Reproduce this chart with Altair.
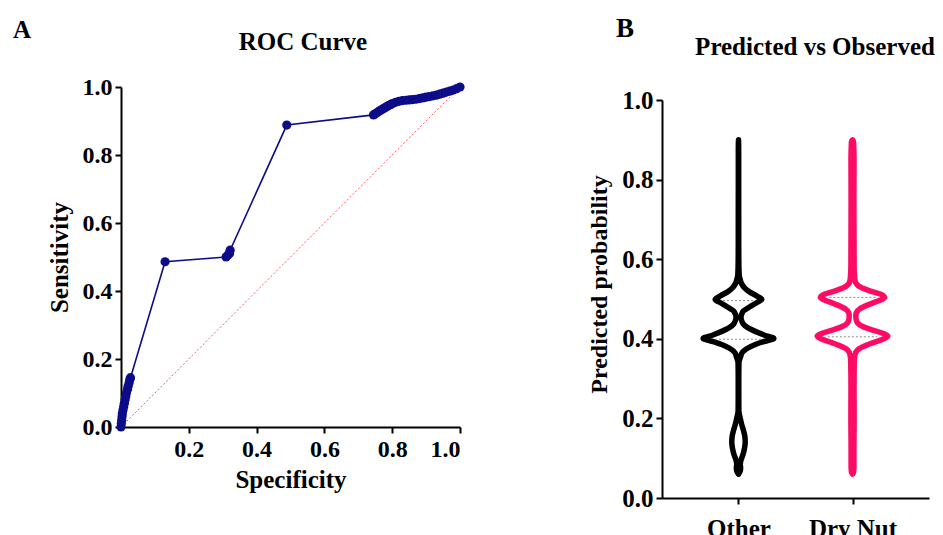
import altair as alt
import pandas as pd

FONT = "Liberation Serif"
NAVY = "#0c0c8a"

# ---------------- Panel A: ROC curve ----------------
roc_specificity = [0.0, 0.001, 0.002, 0.003, 0.004, 0.006, 0.008, 0.010, 0.012, 0.014,
                   0.016, 0.019, 0.021, 0.024, 0.026, 0.028,
                   0.130,
                   0.310, 0.315, 0.320, 0.322,
                   0.489,
                   0.745, 0.750, 0.755, 0.760, 0.765, 0.770, 0.775, 0.780, 0.785, 0.790,
                   0.795, 0.800, 0.810, 0.820, 0.830, 0.840, 0.850, 0.860, 0.870, 0.880,
                   0.890, 0.900, 0.910, 0.920, 0.930, 0.940, 0.950, 0.960, 0.970, 0.980,
                   0.990, 1.000]
roc_sensitivity = [0.0, 0.01, 0.02, 0.03, 0.04, 0.05, 0.06, 0.07, 0.08, 0.09,
                   0.10, 0.11, 0.12, 0.13, 0.14, 0.145,
                   0.486,
                   0.500, 0.505, 0.510, 0.520,
                   0.888,
                   0.918, 0.921, 0.924, 0.928, 0.931, 0.934, 0.937, 0.940, 0.943, 0.946,
                   0.948, 0.951, 0.955, 0.958, 0.960, 0.961, 0.962, 0.963, 0.964, 0.966,
                   0.968, 0.970, 0.972, 0.974, 0.976, 0.979, 0.982, 0.985, 0.988, 0.991,
                   0.995, 1.000]
chance_x = [0.0, 1.0]
chance_y = [0.0, 1.0]
axis_ticks = [0.0, 0.2, 0.4, 0.6, 0.8, 1.0]
x_ticks_roc = [0.2, 0.4, 0.6, 0.8, 1.0]
panel_labels = ["A", "B"]
panel_titles = ["ROC Curve", "Predicted vs Observed"]

# ---------------- Panel B: violins ----------------
categories = ["Other", "Dry Nut"]
cat_colors = ["#000000", "#ff0a64"]

other_y = [0.060, 0.066, 0.075, 0.085, 0.095, 0.110, 0.125, 0.140, 0.155, 0.170,
           0.185, 0.200, 0.220, 0.260, 0.300, 0.340, 0.355, 0.365, 0.375, 0.385,
           0.393, 0.401, 0.409, 0.418, 0.428, 0.438, 0.448, 0.455, 0.462, 0.470,
           0.480, 0.490, 0.499, 0.508, 0.518, 0.528, 0.538, 0.548, 0.560, 0.600,
           0.650, 0.700, 0.800, 0.880, 0.900]
other_density = [0.0, 0.04, 0.06, 0.05, 0.07, 0.13, 0.17, 0.19, 0.18, 0.14,
                 0.09, 0.05, 0.01, 0.008, 0.008, 0.012, 0.06, 0.10, 0.23, 0.46,
                 0.71, 1.0, 0.74, 0.49, 0.26, 0.13, 0.08, 0.07, 0.09, 0.14,
                 0.31, 0.50, 0.66, 0.51, 0.31, 0.17, 0.09, 0.05, 0.02, 0.008,
                 0.006, 0.006, 0.005, 0.005, 0.0]

drynut_y = [0.060, 0.065, 0.080, 0.120, 0.200, 0.280, 0.340, 0.360, 0.372, 0.382,
            0.392, 0.400, 0.407, 0.414, 0.422, 0.430, 0.440, 0.450, 0.458, 0.466,
            0.475, 0.484, 0.494, 0.504, 0.512, 0.520, 0.528, 0.538, 0.550, 0.580,
            0.650, 0.750, 0.850, 0.895, 0.900]
drynut_density = [0.0, 0.03, 0.04, 0.04, 0.046, 0.043, 0.05, 0.07, 0.14, 0.34,
                  0.63, 0.89, 1.0, 0.86, 0.57, 0.31, 0.14, 0.10, 0.094, 0.11,
                  0.20, 0.40, 0.69, 0.91, 0.80, 0.51, 0.26, 0.11, 0.063, 0.046,
                  0.043, 0.04, 0.043, 0.03, 0.0]

other_quartiles = [0.399, 0.496]
drynut_quartiles = [0.405, 0.504]

# ---------------- tables ----------------
roc_df = pd.DataFrame({"Specificity": roc_specificity,
                       "Sensitivity": roc_sensitivity,
                       "idx": list(range(len(roc_specificity)))})
diag_df = pd.DataFrame({"Specificity": chance_x, "Sensitivity": chance_y})

HALF = 0.31  # half-width of the widest violin, in category units

rows = []
for ci, (cat, ys, ds) in enumerate([(categories[0], other_y, other_density),
                                     (categories[1], drynut_y, drynut_density)]):
    for yv, dv in zip(ys, ds):
        rows.append({"cat": cat, "y": yv, "left": ci - dv * HALF, "right": ci + dv * HALF})
violin_df = pd.DataFrame(rows)


def dens_at(ys, ds, q):
    for i in range(len(ys) - 1):
        if ys[i] <= q <= ys[i + 1]:
            t = (q - ys[i]) / (ys[i + 1] - ys[i])
            return ds[i] + t * (ds[i + 1] - ds[i])
    return 0.0


qrows = []
for ci, (ys, ds, qs) in enumerate([(other_y, other_density, other_quartiles),
                                    (drynut_y, drynut_density, drynut_quartiles)]):
    for q in qs:
        w = dens_at(ys, ds, q) * HALF * 0.72
        qrows.append({"y": q, "left": ci - w, "right": ci + w})
quart_df = pd.DataFrame(qrows)

axis_common = dict(domainColor="black", domainWidth=2, tickColor="black", tickWidth=2,
                   tickSize=6, labelFont=FONT, labelFontWeight="bold", labelColor="black",
                   titleFont=FONT, titleFontWeight="bold", titleColor="black", grid=False)


def text_mark(txt, size, align, dx, dy):
    return alt.Chart(pd.DataFrame({"t": [txt]})).mark_text(
        align=align, baseline="alphabetic", font=FONT, fontWeight="bold", fontSize=size,
        color="black").encode(x=alt.value(dx), y=alt.value(dy), text="t:N")


# ---------------- Panel A chart ----------------
x_roc = alt.X("Specificity:Q", scale=alt.Scale(domain=[0, 1], nice=False),
              axis=alt.Axis(values=x_ticks_roc, format=".1f", labelFontSize=24,
                            titleFontSize=25, titlePadding=6, labelPadding=4, **axis_common))
y_roc = alt.Y("Sensitivity:Q", scale=alt.Scale(domain=[0, 1], nice=False),
              axis=alt.Axis(values=axis_ticks, format=".1f", labelFontSize=24,
                            titleFontSize=25, titlePadding=10, labelPadding=3, **axis_common))

diag = alt.Chart(diag_df).mark_line(color="#ff5a5a", strokeWidth=1, strokeDash=[2, 2]).encode(
    x=x_roc, y=y_roc)
roc_line = alt.Chart(roc_df).mark_line(color=NAVY, strokeWidth=1.6).encode(
    x=x_roc, y=y_roc, order="idx:Q")
roc_pts = alt.Chart(roc_df).mark_circle(color=NAVY, size=85, opacity=1).encode(x=x_roc, y=y_roc)

left = alt.layer(
    diag, roc_line, roc_pts,
    text_mark(panel_labels[0], 25, "left", -108, -49),
    text_mark(panel_titles[0], 25, "center", 182, -37),
).properties(width=339, height=340)

# ---------------- Panel B chart ----------------
label_expr = "[" + ",".join("'%s'" % c for c in categories) + "][datum.value]"
x_v = alt.X("left:Q", scale=alt.Scale(domain=[-0.671, 1.671], nice=False, zero=False),
            axis=alt.Axis(values=[0, 1], labelExpr=label_expr, title=None, labelFontSize=25,
                          labelPadding=12, **axis_common))
y_v = alt.Y("y:Q", scale=alt.Scale(domain=[0, 1], nice=False, range=[411, 13]),
            axis=alt.Axis(values=axis_ticks, format=".1f", labelFontSize=25,
                          title="Predicted probability", titleFontSize=24, titleY=197,
                          titlePadding=10, labelPadding=3, **axis_common))

violins = alt.Chart(violin_df).mark_area(
    orient="horizontal", interpolate="monotone", fill="white", strokeWidth=5.5,
    opacity=1, strokeJoin="round").encode(
    y=y_v, x=x_v, x2="right:Q",
    stroke=alt.Stroke("cat:N", scale=alt.Scale(domain=categories, range=cat_colors), legend=None))
quarts = alt.Chart(quart_df).mark_rule(color="#8a8a8a", strokeWidth=1, strokeDash=[2, 2]).encode(
    y="y:Q", x="left:Q", x2="right:Q")

right = alt.layer(
    violins, quarts,
    text_mark(panel_labels[1], 27, "left", -46, -50),
    text_mark(panel_titles[1], 25, "center", 153, -32),
).properties(width=267, height=411)

chart = alt.hconcat(left, right, spacing=122).properties(
    padding={"left": 5, "top": 7, "right": 0, "bottom": 0},
    background="white").configure_view(stroke=None)

chart.save("out.html", embed_options={"renderer": "svg", "actions": False})
